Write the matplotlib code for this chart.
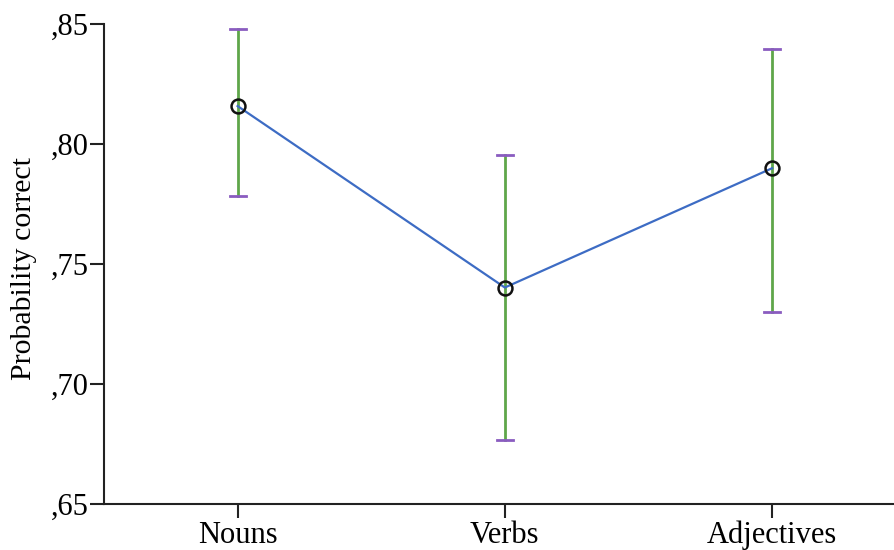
import matplotlib.pyplot as plt

# Mean probability correct per word class, with 95% CI limits
categories = ['Nouns', 'Verbs', 'Adjectives']
means = [0.8158, 0.7402, 0.7899]
ci_low = [0.7782, 0.6768, 0.7298]
ci_high = [0.8479, 0.7953, 0.8396]
yticks = [0.65, 0.70, 0.75, 0.80, 0.85]
ytick_labels = [',65', ',70', ',75', ',80', ',85']

plt.rcParams['font.family'] = ['Liberation Serif', 'DejaVu Serif']

fig = plt.figure(figsize=(8.95, 5.5), dpi=100)
ax = fig.add_axes([0.1162, 0.0836, 0.8838, 0.8728])

x = list(range(len(categories)))

# Error bars: green stems, purple caps
for xi, lo, hi in zip(x, ci_low, ci_high):
    ax.plot([xi, xi], [lo, hi], color='#5fa64a', lw=2, zorder=1)
    ax.plot([xi - 0.03, xi + 0.03], [lo, lo], color='#8a5cc0', lw=2, zorder=1)
    ax.plot([xi - 0.03, xi + 0.03], [hi, hi], color='#8a5cc0', lw=2, zorder=1)

ax.plot(x, means, color='#3d6cc4', lw=1.6, zorder=2)
ax.plot(x, means, 'o', ms=10, mfc='none', mec='#111111', mew=1.8, zorder=3)

ax.set_xlim(-0.5, 2.46)
ax.set_ylim(0.65, 0.85)
ax.set_xticks(x)
ax.set_xticklabels(categories)
ax.set_yticks(yticks)
ax.set_yticklabels(ytick_labels)
ax.set_ylabel('Probability correct', fontsize=21.5)
ax.yaxis.set_label_coords(-0.085, 0.49)

for side in ['top', 'right']:
    ax.spines[side].set_visible(False)
for side in ['left', 'bottom']:
    ax.spines[side].set_linewidth(1.5)
    ax.spines[side].set_color('#222222')

ax.tick_params(axis='both', direction='out', length=10, width=1.5,
               color='#222222', labelsize=22, pad=1)
ax.tick_params(axis='x', pad=2)

fig.savefig('out.png', dpi=100)
